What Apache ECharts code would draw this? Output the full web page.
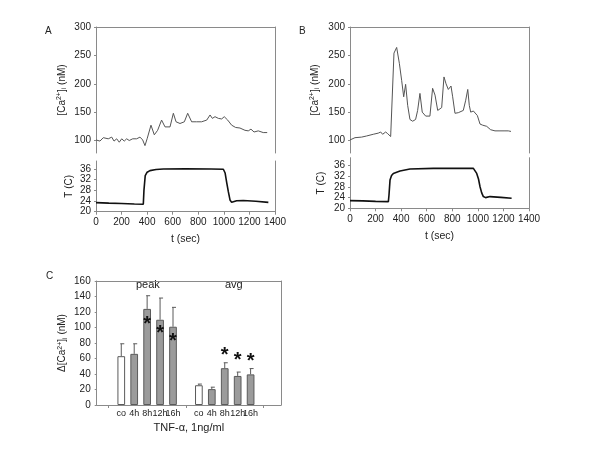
<!DOCTYPE html>
<html><head><meta charset="utf-8">
<script src="https://cdn.jsdelivr.net/npm/echarts@6/dist/echarts.min.js"></script>
<style>html,body{margin:0;padding:0;background:#fff}#c{width:600px;height:450px}</style>
</head><body><div id="c"></div>
<script>
// Panel A: [Ca2+]i trace (t sec, nM)
const caA_t = [0,31,57,96,123,141,162,182,201,221,240,260,287,318,344,365,383,401,430,456,482,513,540,579,605,626,657,691,717,748,787,826,866,892,910,931,957,983,1003,1030,1061,1092,1126,1165,1191,1212,1236,1269,1308,1339];
const caA_v = [101,99,105,103,106,99,103,97,103,99,103,100,103,103,106,101,91,104,127,110,118,136,124,124,148,133,130,133,148,133,133,133,136,145,139,142,139,138,142,136,127,123,122,118,117,120,115,117,114,114];
// Panel A: temperature (t sec, C)
const tA_t = [0,100,200,300,370,375,385,400,422,470,527,700,900,996,1010,1022,1035,1048,1061,1075,1100,1152,1250,1348];
const tA_v = [23.4,23.2,23.1,22.9,22.8,28,33.5,34.8,35.4,35.8,36,36.1,36,35.9,34.5,31,27.5,24.4,23.5,23.7,24.1,24.2,23.9,23.5];
// Panel B: [Ca2+]i trace
const caB_t = [0,39,91,130,182,221,240,255,279,295,318,344,365,386,404,420,435,451,469,490,513,529,547,565,592,625,646,665,686,699,717,735,751,769,790,803,821,847,886,905,921,933,944,965,978,996,1017,1038,1069,1100,1134,1173,1212,1238,1259];
const caB_v = [101,105,106,108,111,113,115,111,115,112,107,254,264,236,206,177,199,162,137,134,137,153,183,150,143,143,192,180,153,156,158,212,200,190,196,177,148,149,153,171,190,162,150,152,149,144,129,127,125,119,117,117,117,117,116];
// Panel B: temperature
const tB_t = [0,100,200,300,305,313,325,339,391,469,652,965,991,1005,1017,1030,1043,1060,1069,1095,1180,1264];
const tB_v = [22.9,22.8,22.6,22.5,25,30.6,32.3,33.1,34,34.75,35,35,33.1,31,28.1,25.8,24.4,24,24,24.4,24.1,23.75];
// Panel C: bars
const groups = ['peak','avg'];
const cats = ['co','4h','8h','12h','16h'];
const peakMean = [63,66,124,110,101];
const peakErr  = [79,79,141,138,126];
const avgMean  = [25.5,20.5,47.5,37.5,39.5];
const avgErr   = [27,23,54.5,42.5,47];
const peakStar = [null,null,110,99,89];
const avgStar  = [null,null,70,64,63];
// tick labels
const caTicks = [100,150,200,250,300];
const tTicks = [20,24,28,32,36];
const timeTicks = [0,200,400,600,800,1000,1200,1400];
const cTicks = [0,20,40,60,80,100,120,140,160];

const FONT = 'Liberation Sans, Arial, sans-serif';
const AX = '#8a8a8a', TXT = '#222';
const zip = (a,b)=>a.map((x,i)=>[x,b[i]]);

function caName(prefix){ return prefix + '[Ca{sup|2+}]{sub|i} (nM)'; }
const rich = {
  sup:{fontSize:7,fontFamily:FONT,color:TXT,verticalAlign:'top',lineHeight:12},
  sub:{fontSize:7,fontFamily:FONT,color:TXT,verticalAlign:'bottom',lineHeight:12}
};
function lineAx(show){return {show:show,onZero:false,lineStyle:{color:AX,width:1}};}
const lbl = (m, extra)=>Object.assign({color:TXT,fontSize:10,fontFamily:FONT,margin:m,hideOverlap:false,showMinLabel:true,showMaxLabel:true,formatter:v=>String(v)},extra||{});

const grids = [
  {left:96,top:27,width:179,height:126},
  {left:96,top:161,width:179,height:50.7},
  {left:350,top:27,width:179,height:126},
  {left:350,top:157.7,width:179,height:50.6},
  {left:96.7,top:281,width:184.3,height:124}
].map(g=>Object.assign({outerBoundsMode:'none',containLabel:false},g));

// panel C positions (layout): bars at 0..4 and 6..10 in slot units
const xPos = (g,i)=>g*6+i;
const barData=[], errData=[], starData=[], labData=[];
[[peakMean,peakErr,peakStar],[avgMean,avgErr,avgStar]].forEach(([m,e,s],g)=>{
  m.forEach((v,i)=>{
    const x=xPos(g,i);
    labData.push({value:[x,0],name:cats[i]});
    barData.push({value:[x,v],itemStyle:{color:i===0?'#ffffff':'#9b9b9b',borderColor:'#5a5a5a',borderWidth:1}});
    errData.push([x,v,e[i]]);
    if(s[i]!=null) starData.push([x,s[i]]);
  });
});

const xAxes = [], yAxes = [];
function timeBottom(gi, showLabels){
  xAxes.push({type:'value',gridIndex:gi,min:0,max:1400,
    axisLine:lineAx(showLabels),axisTick:{show:showLabels,length:3,lineStyle:{color:AX},customValues:timeTicks},
    axisLabel:lbl(6,{show:showLabels,customValues:timeTicks}),
    splitLine:{show:false},
    name:showLabels?'t (sec)':'',nameLocation:'middle',nameGap:22,
    nameTextStyle:{color:TXT,fontSize:10.5,fontFamily:FONT}});
}
function topLine(gi,min,max){
  xAxes.push({type:'value',gridIndex:gi,position:'top',min:min,max:max,axisLine:lineAx(true),axisTick:{show:false},axisLabel:{show:false},splitLine:{show:false}});
}
function rightLine(gi,min,max){
  yAxes.push({type:'value',gridIndex:gi,position:'right',min:min,max:max,axisLine:lineAx(true),axisTick:{show:false},axisLabel:{show:false},splitLine:{show:false}});
}
// grid 0 (A top)
timeBottom(0,false); topLine(0,0,1400);
yAxes.push({type:'value',gridIndex:0,min:78,max:300,axisLine:lineAx(true),
  axisTick:{show:true,length:2,lineStyle:{color:AX},customValues:caTicks},
  axisLabel:lbl(5,{customValues:caTicks}),splitLine:{show:false},
  name:caName(''),nameLocation:'middle',nameGap:28,nameRotate:90,
  nameTextStyle:{color:TXT,fontSize:10,fontFamily:FONT,rich:rich}});
rightLine(0,78,300);
// grid 1 (A T)
timeBottom(1,true);
yAxes.push({type:'value',gridIndex:1,min:20,max:39,axisLine:lineAx(true),
  axisTick:{show:true,length:2,lineStyle:{color:AX},customValues:tTicks},
  axisLabel:lbl(5,{customValues:tTicks}),splitLine:{show:false},
  name:'T (C)',nameLocation:'middle',nameGap:22,nameRotate:90,
  nameTextStyle:{color:TXT,fontSize:10,fontFamily:FONT}});
rightLine(1,20,39);
// grid 2 (B top)
timeBottom(2,false); topLine(2,0,1400);
yAxes.push({type:'value',gridIndex:2,min:78,max:300,axisLine:lineAx(true),
  axisTick:{show:true,length:2,lineStyle:{color:AX},customValues:caTicks},
  axisLabel:lbl(5,{customValues:caTicks}),splitLine:{show:false},
  name:caName(''),nameLocation:'middle',nameGap:29,nameRotate:90,
  nameTextStyle:{color:TXT,fontSize:10,fontFamily:FONT,rich:rich}});
rightLine(2,78,300);
// grid 3 (B T)
timeBottom(3,true);
yAxes.push({type:'value',gridIndex:3,min:20,max:39,axisLine:lineAx(true),
  axisTick:{show:true,length:2,lineStyle:{color:AX},customValues:tTicks},
  axisLabel:lbl(5,{customValues:tTicks}),splitLine:{show:false},
  name:'T (C)',nameLocation:'middle',nameGap:24,nameRotate:90,
  nameTextStyle:{color:TXT,fontSize:10,fontFamily:FONT}});
rightLine(3,20,39);
// grid 4 (C)
xAxes.push({type:'value',gridIndex:4,min:-1.9,max:12.35,axisLine:lineAx(true),
  axisTick:{show:true,length:3,lineStyle:{color:AX},customValues:[-1,5,11]},
  axisLabel:{show:false},
  splitLine:{show:false},name:'TNF-\u03b1, 1ng/ml',nameLocation:'middle',nameGap:17,
  nameTextStyle:{color:TXT,fontSize:11,fontFamily:FONT}});
topLine(4,-1.9,12.35);
yAxes.push({type:'value',gridIndex:4,min:0,max:160,axisLine:lineAx(true),
  axisTick:{show:true,length:2,lineStyle:{color:AX},customValues:cTicks},
  axisLabel:lbl(6,{customValues:cTicks}),splitLine:{show:false},
  name:caName('\u0394'),nameLocation:'middle',nameGap:28,nameRotate:90,
  nameTextStyle:{color:TXT,fontSize:10,fontFamily:FONT,rich:rich}});
rightLine(4,0,160);

const lineS = (xi,yi,data,color,w)=>({type:'line',xAxisIndex:xi,yAxisIndex:yi,data:data,showSymbol:false,symbol:'none',
  lineStyle:{color:color,width:w},smooth:false,silent:true,animation:false});

const series = [
  lineS(0,0,zip(caA_t,caA_v),'#555',1),
  lineS(2,2,zip(tA_t,tA_v),'#111',1.6),
  lineS(3,4,zip(caB_t,caB_v),'#555',1),
  lineS(5,6,zip(tB_t,tB_v),'#111',1.6),
  {type:'bar',xAxisIndex:6,yAxisIndex:8,data:barData,barWidth:7.7,animation:false,silent:true,z:2},
  {type:'custom',xAxisIndex:6,yAxisIndex:8,data:errData,animation:false,silent:true,z:4,
    renderItem:(p,api)=>{
      const a=api.coord([api.value(0),api.value(1)]), b=api.coord([api.value(0),api.value(2)]);
      return {type:'group',children:[
        {type:'line',shape:{x1:a[0],y1:a[1],x2:b[0],y2:b[1]},style:{stroke:'#5a5a5a',lineWidth:1}},
        {type:'line',shape:{x1:b[0]-1,y1:b[1],x2:b[0]+3,y2:b[1]},style:{stroke:'#5a5a5a',lineWidth:1}}
      ]};
    }},
  {type:'custom',xAxisIndex:6,yAxisIndex:8,data:starData,animation:false,silent:true,z:6,
    renderItem:(p,api)=>{
      const a=api.coord([api.value(0),api.value(1)]);
      return {type:'text',z2:10,style:{text:'*',x:a[0],y:a[1]+5,fontSize:20,fontWeight:'bold',fontFamily:FONT,fill:'#111',align:'center',verticalAlign:'middle'}};
    }},
  {type:'custom',xAxisIndex:6,yAxisIndex:8,data:labData,animation:false,silent:true,clip:false,z:6,
    renderItem:(p,api)=>{
      const a=api.coord([api.value(0),api.value(1)]);
      return {type:'text',style:{text:labData[p.dataIndex].name,x:a[0],y:a[1]+4,fontSize:9,fontFamily:FONT,fill:TXT,align:'center',verticalAlign:'top'}};
    }}
];

const chart = echarts.init(document.getElementById('c'),null,{renderer:'canvas'});
chart.setOption({
  animation:false,backgroundColor:'#fff',
  grid:grids,xAxis:xAxes,yAxis:yAxes,series:series,
  graphic:[
    {type:'text',left:45,top:26,style:{text:'A',fontSize:10,fontFamily:FONT,fill:TXT}},
    {type:'text',left:299,top:26,style:{text:'B',fontSize:10,fontFamily:FONT,fill:TXT}},
    {type:'text',left:46,top:271,style:{text:'C',fontSize:10,fontFamily:FONT,fill:TXT}},
    {type:'text',left:136,top:279,style:{text:groups[0],fontSize:11,fontFamily:FONT,fill:TXT}},
    {type:'text',left:225,top:279,style:{text:groups[1],fontSize:11,fontFamily:FONT,fill:TXT}}
  ]
});
</script></body></html>
